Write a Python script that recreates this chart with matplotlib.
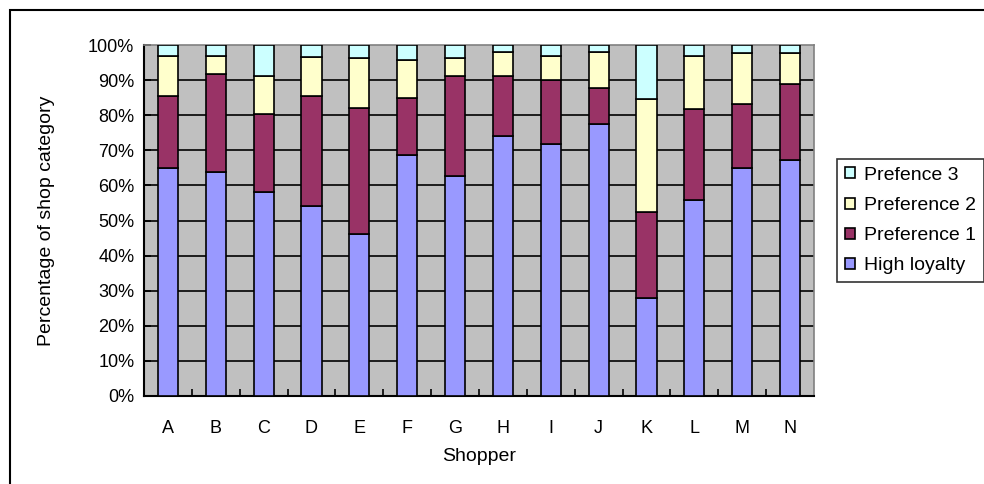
import numpy as np
import matplotlib.pyplot as plt
from matplotlib.patches import Patch, Rectangle
from matplotlib.ticker import FixedLocator, PercentFormatter

# Shoppers on the x axis
shoppers = ["A", "B", "C", "D", "E", "F", "G", "H", "I", "J", "K", "L", "M", "N"]

# Share of each shop category per shopper, in percent
high_loyalty = [65.0, 63.8, 58.2, 54.2, 46.2, 68.6, 62.8, 74.1, 71.8, 77.6, 27.9, 55.8, 65.0, 67.2]
preference_1 = [20.5, 27.9, 22.1, 31.3, 35.9, 16.4, 28.5, 17.2, 18.3, 10.2, 24.6, 25.9, 18.2, 21.8]
preference_2 = [11.4, 5.2, 11.0, 11.0, 14.3, 10.8, 5.1, 6.8, 6.9, 10.3, 32.0, 15.3, 14.4, 8.6]
preference_3 = [3.1, 3.1, 8.7, 3.5, 3.6, 4.2, 3.6, 1.9, 3.0, 1.9, 15.5, 3.0, 2.4, 2.4]

series = [
    ("High loyalty", high_loyalty, "#9999FF"),
    ("Preference 1", preference_1, "#993366"),
    ("Preference 2", preference_2, "#FFFFCC"),
    ("Prefence 3", preference_3, "#CCFFFF"),
]

plt.rcParams["font.family"] = ["Liberation Sans", "DejaVu Sans"]

W, H = 984, 484
fig = plt.figure(figsize=(W / 100, H / 100), dpi=100)
ax = fig.add_axes([144 / W, (H - 396) / H, 670 / W, 351 / H])
ax.set_facecolor("#C0C0C0")

x = np.arange(len(shoppers))
bottom = np.zeros(len(shoppers))
for name, vals, color in series:
    vals = np.array(vals)
    ax.bar(x, vals, width=0.42, bottom=bottom, color=color,
           edgecolor="black", linewidth=1.2, zorder=3)
    bottom += vals

ax.set_xlim(-0.5, len(shoppers) - 0.5)
ax.set_ylim(0, 100)

# gridlines
ax.set_yticks(np.arange(0, 101, 10))
ax.yaxis.set_major_formatter(PercentFormatter(decimals=0))
for v in range(10, 100, 10):
    ax.axhline(v, color="black", linewidth=1.2, zorder=1)

ax.set_xticks(x)
ax.set_xticklabels(shoppers)
ax.xaxis.set_minor_locator(FixedLocator(np.arange(0.5, len(shoppers) - 0.5, 1)))
ax.tick_params(axis="x", which="major", length=0, pad=17, labelsize=13)
ax.tick_params(axis="x", which="minor", direction="in", length=5, width=1.2)
ax.tick_params(axis="y", direction="in", length=5, width=1.2, pad=7, labelsize=13)

for side in ["left", "bottom"]:
    ax.spines[side].set_color("black")
    ax.spines[side].set_linewidth(1.5)
for side in ["top", "right"]:
    ax.spines[side].set_color("#808080")
    ax.spines[side].set_linewidth(1.2)

ax.set_xlabel("Shopper", fontsize=14, labelpad=8)
ax.set_ylabel("Percentage of shop category", fontsize=14, labelpad=24)

# legend (reverse order, like the source)
handles = [Patch(facecolor=c, edgecolor="black", linewidth=1.2, label=n)
           for n, _, c in reversed(series)]
leg = fig.legend(handles=handles, loc="upper left",
                 bbox_to_anchor=(837 / W, (H - 159) / H),
                 frameon=True, fancybox=False, fontsize=14,
                 handlelength=0.5, handleheight=0.5, handletextpad=0.5,
                 labelspacing=0.68, borderpad=0.4, borderaxespad=0)
leg.get_frame().set_edgecolor("black")
leg.get_frame().set_linewidth(1.2)

# outer chart frame (only left and top edges are visible)
fig.add_artist(Rectangle((10 / W, -0.1), 2.0, 1.1 - 10 / H,
                         transform=fig.transFigure, fill=False,
                         edgecolor="black", linewidth=1.5))

fig.savefig("out.png", dpi=100)
